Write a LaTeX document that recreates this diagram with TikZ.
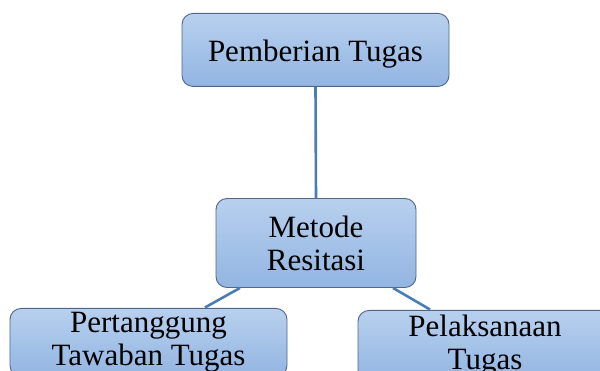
\documentclass[tikz,border=0pt]{standalone}
\usepackage{fontspec}
\setmainfont{Liberation Serif}
\definecolor{boxtop}{HTML}{B8D0EE}
\definecolor{boxbot}{HTML}{92B5E2}
\definecolor{boxline}{HTML}{52658A}
\definecolor{linkcol}{HTML}{4A7DB5}
\begin{document}
\begin{tikzpicture}[x=1pt,y=-1pt,
  stepbox/.style={draw=boxline, line width=0.9pt, rounded corners=11pt,
    top color=boxtop, bottom color=boxbot, align=center,
    font=\fontsize{31}{33}\selectfont, inner sep=0pt},
  link/.style={draw=linkcol, line width=2.6pt}]
\useasboundingbox (0,0) rectangle (600,371);
\clip (0,0) rectangle (600,371);
\node[stepbox, anchor=north, minimum width=267pt, text height=48pt, text depth=25pt] (top) at (315.5,13) {Pemberian Tugas};
\node[stepbox, minimum width=200pt, minimum height=89pt] (mid) at (316,243) {Metode\\Resitasi};
\node[stepbox, anchor=north, minimum width=277pt, inner ysep=4pt] (left) at (148.5,308) {Pertanggung\\Tawaban Tugas};
\node[stepbox, anchor=north, minimum width=254pt, inner ysep=5pt] (right) at (485,310) {Pelaksanaan\\Tugas};
\draw[link] (top.south) -- (mid.north);
\draw[link] ([xshift=-76pt]mid.south) -- ([xshift=56.5pt,yshift=0.5pt]left.north);
\draw[link] ([xshift=77pt]mid.south) -- ([xshift=-55pt,yshift=0.5pt]right.north);
\end{tikzpicture}
\end{document}
